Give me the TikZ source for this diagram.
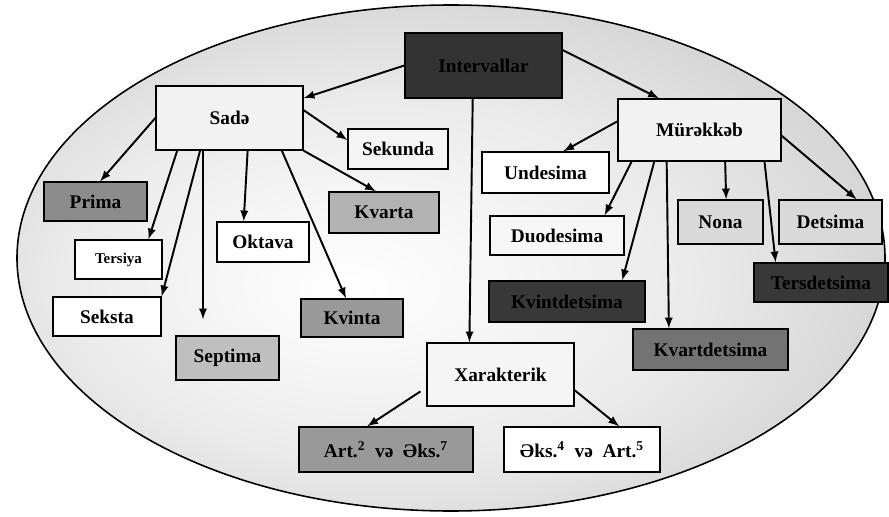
\documentclass[tikz,border=0pt]{standalone}
\usepackage{fontspec}
\setmainfont{Liberation Serif}
\pgfdeclareradialshading{ovalshade}{\pgfpoint{-6bp}{-3bp}}{color(0bp)=(white); color(18bp)=(black!8); color(36bp)=(black!22); color(50bp)=(black!55); color(60bp)=(black!60)}
\begin{document}
\begin{tikzpicture}[x=0.02cm,y=-0.02cm,
    box/.style={draw,line width=0.8pt,inner sep=1pt,text=black,font=\fontsize{11}{13}\selectfont\bfseries},
    arr/.style={-latex,line width=1.1pt}]
  \useasboundingbox (0,0) rectangle (889,517);
  \shade[shading=ovalshade] (451,258) ellipse [x radius=434,y radius=253];
  \draw[line width=0.9pt] (451,258) ellipse [x radius=434,y radius=253];

  \node[box,fill=black!80,minimum width=3.14cm,minimum height=1.3cm] (iv) at (483.5,65.5) {Intervallar};
  \node[box,fill=black!5,minimum width=2.94cm,minimum height=1.28cm] (sade) at (229.5,118) {Sadə};
  \node[box,fill=black!5,minimum width=3.26cm,minimum height=1.24cm] (mur) at (699.5,130) {Mürəkkəb};
  \node[box,fill=black!4,minimum width=2.94cm,minimum height=1.26cm] (xar) at (500.5,374.5) {Xarakterik};

  \node[box,fill=black!4,minimum width=2cm,minimum height=0.8cm] (sek) at (398,149) {Sekunda};
  \node[box,fill=black!45,minimum width=2.06cm,minimum height=0.78cm] (pri) at (95.5,201.5) {Prima};
  \node[box,fill=black!30,minimum width=2.2cm,minimum height=0.82cm] (kva) at (384,212.5) {Kvarta};
  \node[box,fill=white,minimum width=1.74cm,minimum height=0.78cm,font=\fontsize{8.5}{10}\selectfont\bfseries] (ter) at (118.5,259.5) {Tersiya};
  \node[box,fill=white,minimum width=1.84cm,minimum height=0.8cm] (okt) at (263,242) {Oktava};
  \node[box,fill=white,minimum width=2.16cm,minimum height=0.78cm] (seks) at (107,316.5) {Seksta};
  \node[box,fill=black!25,minimum width=2.06cm,minimum height=0.88cm] (sep) at (227.5,358) {Septima};
  \node[box,fill=black!40,minimum width=2.04cm,minimum height=0.76cm] (kvi) at (352,318) {Kvinta};

  \node[box,fill=white,minimum width=2.54cm,minimum height=0.82cm] (und) at (545.5,172.5) {Undesima};
  \node[box,fill=black!3,minimum width=2.68cm,minimum height=0.78cm] (duo) at (557,235.5) {Duodesima};
  \node[box,fill=black!15,minimum width=1.7cm,minimum height=0.88cm] (non) at (720.5,222) {Nona};
  \node[box,fill=black!15,minimum width=2.06cm,minimum height=0.88cm] (det) at (830.5,222) {Detsima};
  \node[box,fill=black!78,minimum width=3.12cm,minimum height=0.82cm] (kvid) at (567,301.5) {Kvintdetsima};
  \node[box,fill=black!78,minimum width=2.68cm,minimum height=0.78cm] (terd) at (821,282.5) {Tersdetsima};
  \node[box,fill=black!55,minimum width=3.1cm,minimum height=0.82cm] (kvad) at (710.5,349.5) {Kvartdetsima};

  \node[box,fill=black!40,minimum width=3.48cm,minimum height=0.9cm] (art) at (386,449.5) {Art.\textsuperscript{2}\ \ və\ \ Əks.\textsuperscript{7}};
  \node[box,fill=white,minimum width=3.12cm,minimum height=0.9cm] (eks) at (582,449.5) {Əks.\textsuperscript{4}\ \ və\ \ Art.\textsuperscript{5}};

  % from the top box
  \draw[arr] (iv.west) -- (sade.15);
  \draw[arr] (iv.11) -- (mur.142);
  \draw[arr] (iv.252) -- (xar.134);

  % Sada
  \draw[arr] (sade.west) -- (pri.77);
  \draw[arr] (sade.6) -- (sek.170);
  \draw[arr] (sade.212) -- (ter.34);
  \draw[arr] (sade.228) -- (seks.north east);
  \draw[arr,shorten >=0.32cm] (sade.231) -- (sade.231 |- sep.north);
  \draw[arr] (sade.299) -- (okt.133);
  \draw[arr] (sade.328) -- (kvi.107);
  \draw[arr] (sade.south east) -- (kva.111);

  % Murekkeb
  \draw[arr] (mur.174) -- (und.50);
  \draw[arr] (mur.205) -- (duo.23);
  \draw[arr] (mur.215) -- (kvid.21);
  \draw[arr] (mur.224) -- (kvad.153);
  \draw[arr] (mur.309) -- (non.76);
  \draw[arr] (mur.334) -- (terd.156);
  \draw[arr] (mur.356) -- (det.41);

  % Xarakterik
  \draw[arr,shorten <=0.14cm] (xar.190) -- (art.129);
  \draw[arr] (xar.348) -- (eks.32);
\end{tikzpicture}
\end{document}
